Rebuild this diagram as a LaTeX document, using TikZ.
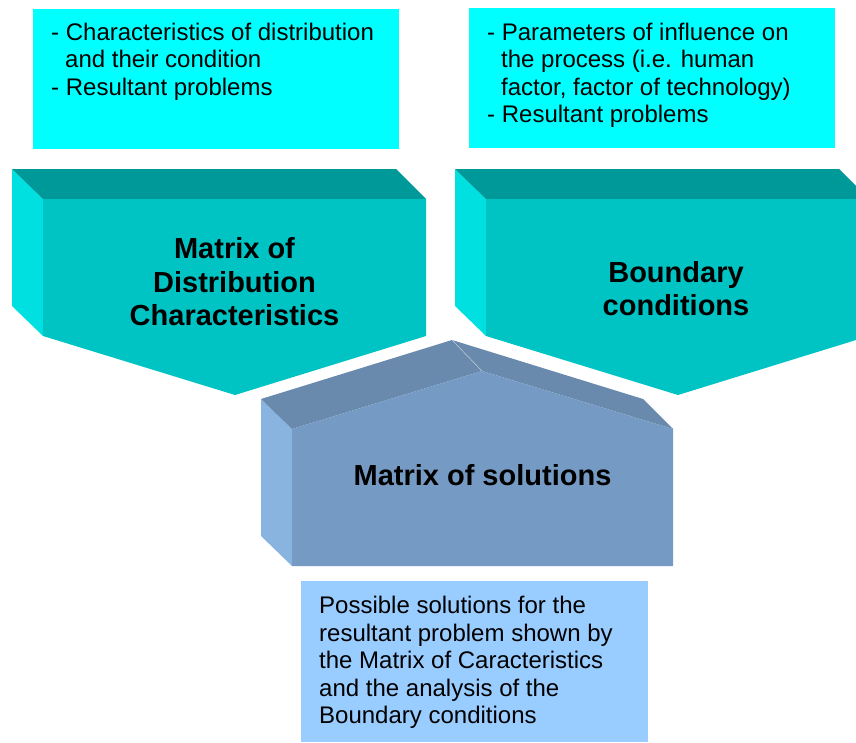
\documentclass[tikz,border=0pt]{standalone}
\usepackage{fontspec}
\setmainfont{Liberation Sans}
\definecolor{boxcyan}{HTML}{00FFFF}
\definecolor{tealfront}{HTML}{00C4C4}
\definecolor{tealtop}{HTML}{009999}
\definecolor{tealside}{HTML}{00E0E0}
\definecolor{bluefront}{HTML}{759BC4}
\definecolor{bluetop}{HTML}{698AAD}
\definecolor{blueside}{HTML}{8AB4E0}
\definecolor{lightbox}{HTML}{99CCFF}
\begin{document}
\begin{tikzpicture}[x=1pt,y=-1pt,
  note/.style={anchor=north west, inner sep=0pt, align=left, font=\fontsize{24}{27.5}\selectfont},
  title/.style={align=center, inner sep=0pt, font=\fontsize{29}{33.5}\selectfont\bfseries}]
\useasboundingbox (0,0) rectangle (856,742);
\clip (0,0) rectangle (856,742);

% top notes
\fill[boxcyan] (33,9) rectangle (399,149);
\node[note] (n1) at (51,22.8) {- Characteristics of distribution\\\hspace*{14pt}and their condition\\- Resultant problems};
\fill[boxcyan] (469,8) rectangle (835,148);
\node[note] (n2) at (487,22.5) {- Parameters of influence on\\\hspace*{14pt}the process (i.e. human\\\hspace*{14pt}factor, factor of technology)\\- Resultant problems};

% left block
\fill[tealside] (12,169) -- (43,199) -- (43,336) -- (12,306) -- cycle;
\fill[tealtop] (12,169) -- (396,169) -- (426,199) -- (43,199) -- cycle;
\fill[tealfront] (43,199) -- (426,199) -- (426,336) -- (235,395) -- (43,336) -- cycle;
\node[title] (t1) at (234.5,282) {Matrix of\\Distribution\\Characteristics};

% right block
\fill[tealside] (455,169) -- (486,199) -- (486,336) -- (455,306) -- cycle;
\fill[tealtop] (455,169) -- (839,169) -- (869,199) -- (486,199) -- cycle;
\fill[tealfront] (486,199) -- (869,199) -- (869,336) -- (678,395) -- (486,336) -- cycle;
\node[title] (t2) at (676,288.5) {Boundary\\conditions};

% bottom block
\fill[blueside] (261,399) -- (292,429) -- (292,566) -- (261,536) -- cycle;
\fill[bluetop] (261,399) -- (452,340) -- (643,399) -- (673,429) -- (482,371) -- (292,429) -- cycle;
\fill[bluefront] (292,429) -- (482,371) -- (673,429) -- (673,566) -- (292,566) -- cycle;
\draw[white!60!bluetop, line width=0.5pt] (452,340) -- (482,371);
\node[title] (t3) at (482.5,475) {Matrix of solutions};

% bottom note
\fill[lightbox] (301,581) rectangle (648,742);
\node[note] (n3) at (319,596) {Possible solutions for the\\resultant problem shown by\\the Matrix of Caracteristics\\and the analysis of the\\Boundary conditions};
\end{tikzpicture}
\end{document}
